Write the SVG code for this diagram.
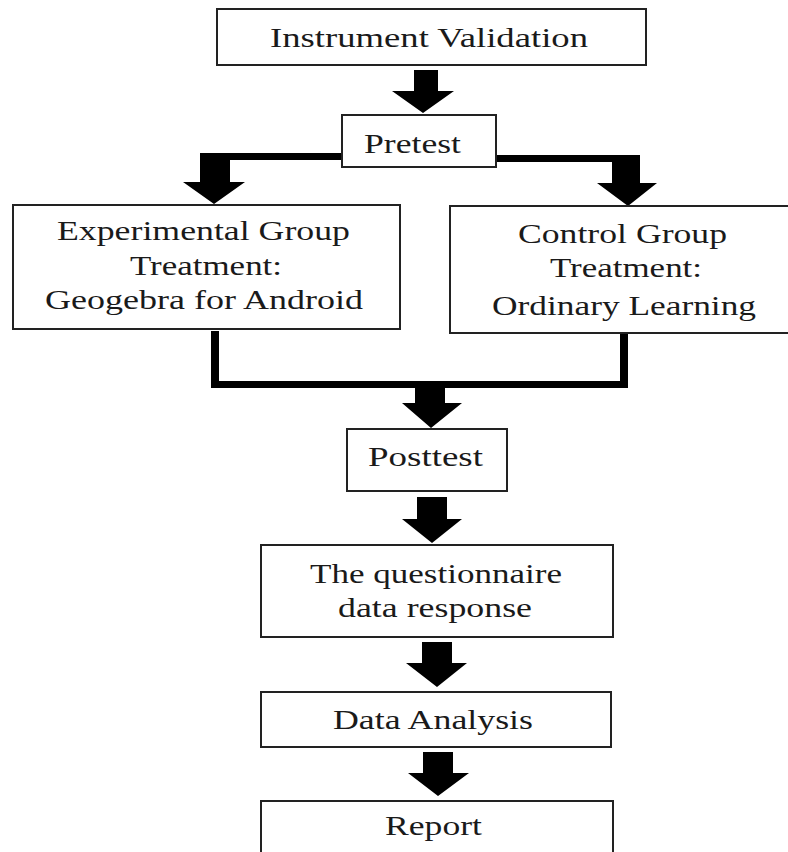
<svg xmlns="http://www.w3.org/2000/svg" width="788" height="852" viewBox="0 0 788 852">
  <style>
    .box { fill: #ffffff; stroke: #222222; stroke-width: 2; }
    .label { font-family: "Liberation Serif", "Times New Roman", serif; font-size: 28px; fill: #1a1a1a; text-anchor: start; }
    .bar { fill: #000000; }
  </style>
  <rect x="0" y="0" width="788" height="852" fill="#ffffff"/>

  <!-- connectors: block arrows and elbow bars -->
  <g id="connectors">
    <!-- Instrument Validation -> Pretest -->
    <polygon class="bar" points="414,70 438,70 438,91 454,91 423,113 392,91 414,91"/>
    <!-- Pretest -> Experimental Group -->
    <rect class="bar" x="200" y="153" width="142" height="7"/>
    <polygon class="bar" points="200,153 230,153 230,182 245,182 214,204 183,182 200,182"/>
    <!-- Pretest -> Control Group -->
    <rect class="bar" x="497" y="155" width="143" height="7"/>
    <polygon class="bar" points="612,155 640,155 640,183 657,183 628,206 597,183 612,183"/>
    <!-- both groups merge -> Posttest -->
    <rect class="bar" x="211" y="331" width="8" height="57"/>
    <rect class="bar" x="620" y="333" width="8" height="55"/>
    <rect class="bar" x="211" y="381" width="417" height="7"/>
    <polygon class="bar" points="415,381 445,381 445,403 462,403 431,428 402,403 415,403"/>
    <!-- Posttest -> questionnaire -->
    <polygon class="bar" points="417,497 447,497 447,519 462,519 432,543 402,519 417,519"/>
    <!-- questionnaire -> Data Analysis -->
    <polygon class="bar" points="422,642 452,642 452,663 467,663 437,687 406,663 422,663"/>
    <!-- Data Analysis -> Report -->
    <polygon class="bar" points="423,752 453,752 453,773 469,773 438,796 408,773 423,773"/>
  </g>

  <g id="instrument-validation">
    <rect class="box" x="217" y="9" width="429" height="56"/>
    <text class="label" x="270" y="47" textLength="318" lengthAdjust="spacingAndGlyphs">Instrument Validation</text>
  </g>

  <g id="pretest">
    <rect class="box" x="342" y="115" width="154" height="52"/>
    <text class="label" x="364" y="153" textLength="97" lengthAdjust="spacingAndGlyphs">Pretest</text>
  </g>

  <g id="experimental-group">
    <rect class="box" x="13" y="205" width="387" height="124"/>
    <text class="label" x="57" y="240" textLength="293" lengthAdjust="spacingAndGlyphs">Experimental Group</text>
    <text class="label" x="130" y="275" textLength="152" lengthAdjust="spacingAndGlyphs">Treatment:</text>
    <text class="label" x="45" y="309" textLength="318" lengthAdjust="spacingAndGlyphs">Geogebra for Android</text>
  </g>

  <g id="control-group">
    <rect class="box" x="450" y="206" width="340" height="127"/>
    <text class="label" x="518" y="243" textLength="209" lengthAdjust="spacingAndGlyphs">Control Group</text>
    <text class="label" x="550" y="277" textLength="152" lengthAdjust="spacingAndGlyphs">Treatment:</text>
    <text class="label" x="492" y="315" textLength="264" lengthAdjust="spacingAndGlyphs">Ordinary Learning</text>
  </g>

  <g id="posttest">
    <rect class="box" x="347" y="429" width="160" height="62"/>
    <text class="label" x="368" y="466" textLength="115" lengthAdjust="spacingAndGlyphs">Posttest</text>
  </g>

  <g id="questionnaire">
    <rect class="box" x="261" y="545" width="352" height="92"/>
    <text class="label" x="310" y="583" textLength="252" lengthAdjust="spacingAndGlyphs">The questionnaire</text>
    <text class="label" x="338" y="617" textLength="194" lengthAdjust="spacingAndGlyphs">data response</text>
  </g>

  <g id="data-analysis">
    <rect class="box" x="261" y="692" width="350" height="55"/>
    <text class="label" x="333" y="729" textLength="200" lengthAdjust="spacingAndGlyphs">Data Analysis</text>
  </g>

  <g id="report">
    <rect class="box" x="261" y="801" width="352" height="70"/>
    <text class="label" x="385" y="835" textLength="97" lengthAdjust="spacingAndGlyphs">Report</text>
  </g>
</svg>
